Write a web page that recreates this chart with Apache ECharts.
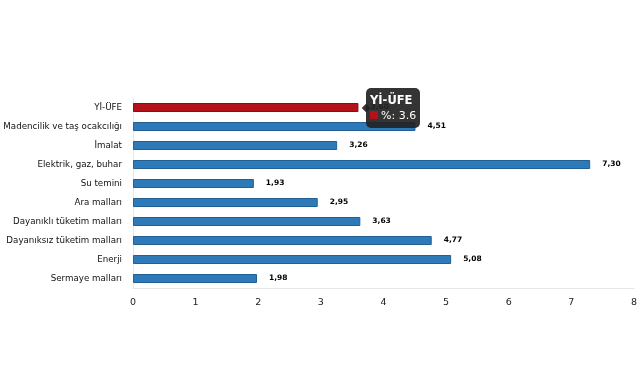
<!DOCTYPE html>
<html><head><meta charset="utf-8">
<script src="https://cdn.jsdelivr.net/npm/echarts@6/dist/echarts.min.js"></script>
<style>html,body{margin:0;padding:0;background:#fff}#c{width:641px;height:380px}</style>
</head><body><div id="c"></div>
<script>
var categories = ["Yİ-ÜFE","Madencilik ve taş ocakcılığı","İmalat","Elektrik, gaz, buhar","Su temini","Ara malları","Dayanıklı tüketim malları","Dayanıksız tüketim malları","Enerji","Sermaye malları"];
var values = [3.60,4.51,3.26,7.30,1.93,2.95,3.63,4.77,5.08,1.98];
var highlightIndex = 0;
var seriesName = "%";
var xTicks = [0,1,2,3,4,5,6,7,8];

var chart = echarts.init(document.getElementById('c'), null, {renderer:'canvas'});
var data = values.map(function(v,i){
  var hi = i===highlightIndex;
  return {value:v, itemStyle:{color: hi ? '#b3121b' : '#2e7ab8', borderColor: hi ? '#8a0d14' : '#225f92', borderWidth:1}};
});
chart.setOption({
  animation:false,
  grid:{left:133, right:7, top:98, bottom:92, containLabel:false, outerBoundsMode:'none'},
  tooltip:{
    trigger:'item', alwaysShowContent:true, position:'right',
    backgroundColor:'rgba(35,35,35,0.92)', borderWidth:0, borderRadius:5,
    padding:[5,4], extraCssText:'box-shadow:none;',
    textStyle:{color:'#fff', fontFamily:'DejaVu Sans', fontSize:11},
    formatter:function(p){
      return '<div style="font-weight:bold;font-size:11.5px;line-height:15px">'+p.name+'</div>'+
        '<div style="line-height:15px"><span style="display:inline-block;width:8px;height:8px;background:'+p.color+';margin-right:3px"></span>'+seriesName+': '+p.value+'</div>';
    }
  },
  xAxis:{type:'value', min:0, max:8, interval:1,
    axisLine:{show:true, lineStyle:{color:'#e6e6e6'}}, axisTick:{show:false},
    splitLine:{show:false},
    axisLabel:{color:'#222', fontFamily:'DejaVu Sans', fontSize:9.5, margin:10}},
  yAxis:{type:'category', data:categories, inverse:true,
    axisLine:{show:true, lineStyle:{color:'#e6e6e6'}}, axisTick:{show:false},
    axisLabel:{color:'#111', fontFamily:'DejaVu Sans', fontSize:8.7, margin:11}},
  series:[{type:'bar', name:seriesName, data:data, barWidth:9,
    label:{show:true, position:'right', distance:12, color:'#000', fontWeight:'bold', fontFamily:'DejaVu Sans', fontSize:7.5,
      formatter:function(p){return p.value.toFixed(2).replace('.',',');}}}]
});
chart.dispatchAction({type:'showTip', seriesIndex:0, dataIndex:highlightIndex});
</script></body></html>
